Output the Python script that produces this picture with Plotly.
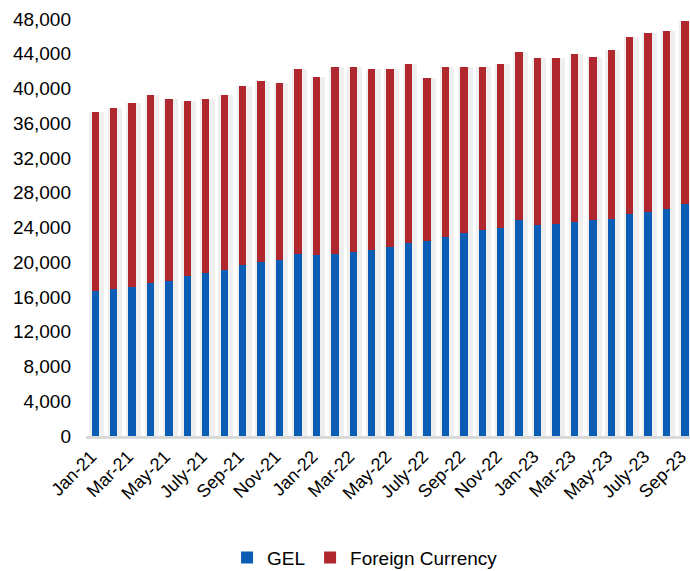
import plotly.graph_objects as go

months = ["Jan-21","Feb-21","Mar-21","Apr-21","May-21","Jun-21","July-21","Aug-21","Sep-21","Oct-21","Nov-21","Dec-21",
          "Jan-22","Feb-22","Mar-22","Apr-22","May-22","Jun-22","July-22","Aug-22","Sep-22","Oct-22","Nov-22","Dec-22",
          "Jan-23","Feb-23","Mar-23","Apr-23","May-23","Jun-23","July-23","Aug-23","Sep-23"]

gel = [16690, 16880, 17190, 17570, 17880, 18380, 18760, 19070, 19650, 19990, 20300, 20990,
       20830, 20910, 21140, 21410, 21790, 22250, 22480, 22940, 23420, 23680, 23900, 24860,
       24250, 24400, 24670, 24830, 25010, 25590, 25750, 26130, 26700]

total = [37330, 37720, 38300, 39300, 38800, 38560, 38800, 39250, 40250, 40900, 40600, 42300,
         41300, 42500, 42500, 42300, 42300, 42800, 41250, 42440, 42440, 42440, 42800, 44240,
         43470, 43470, 43930, 43600, 44430, 45970, 46350, 46600, 47770]

foreign = [t - g for t, g in zip(total, gel)]

tick_labels = months[::2]
y_ticks = list(range(0, 48001, 4000))

BLUE = "#0B5CB5"
RED = "#B0272D"
FONT = "Liberation Sans, Arial, sans-serif"
XR = [-0.5, 32.27]

fig = go.Figure()

# depth shadow behind each column
fig.add_trace(go.Bar(x=months, y=total, marker_color="#EFEFEF", marker_line_width=0,
                     width=0.8, offset=-0.32, showlegend=False, hoverinfo="skip",
                     xaxis="x", yaxis="y"))

fig.add_trace(go.Bar(x=months, y=gel, name="GEL", marker_color=BLUE, marker_line_width=0,
                     width=0.4, xaxis="x2", yaxis="y"))
fig.add_trace(go.Bar(x=months, y=foreign, name="Foreign Currency", marker_color=RED,
                     marker_line_width=0, width=0.4, xaxis="x2", yaxis="y"))

fig.update_layout(
    width=690, height=571,
    margin=dict(l=86, r=0, t=19, b=135, autoexpand=False),
    barmode="stack",
    plot_bgcolor="white", paper_bgcolor="white",
    font=dict(family=FONT, size=19, color="#000000"),
    xaxis=dict(type="category", categoryorder="array", categoryarray=months,
               range=XR, tickmode="array", tickvals=tick_labels, ticktext=tick_labels,
               tickangle=-45, showgrid=False, showline=True, linecolor="#D9D9D9", linewidth=3,
               ticks="", tickfont=dict(size=18), ticklabelshift=-4, automargin=False),
    xaxis2=dict(type="category", categoryorder="array", categoryarray=months,
                range=XR, overlaying="x", showticklabels=False, showgrid=False,
                showline=False, ticks="", automargin=False),
    yaxis=dict(range=[0, 48000], tickmode="array", tickvals=y_ticks,
               ticktext=[f"{v:,}" for v in y_ticks], showgrid=False, zeroline=False,
               showline=False, ticks="", ticklabelstandoff=14, tickfont=dict(size=19),
               automargin=False),
    legend=dict(orientation="h", x=0.462, xanchor="center", y=-0.292, yanchor="middle",
                font=dict(size=19), traceorder="normal", itemwidth=30),
)

fig.write_html("out.html", config={"displayModeBar": False},
               post_script="document.body.style.margin='0';document.body.style.overflow='hidden';")
